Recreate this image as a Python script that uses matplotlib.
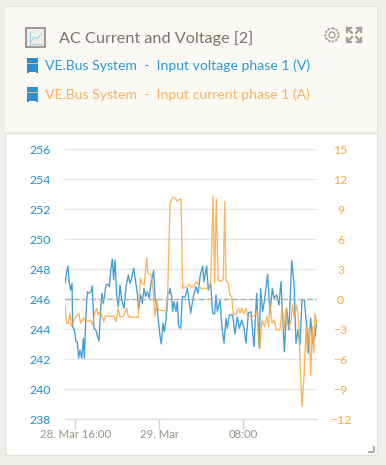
import matplotlib
matplotlib.use("Agg")
import matplotlib.pyplot as plt
from matplotlib.patches import Rectangle, Circle

plt.rcParams['font.family'] = ['Lato', 'DejaVu Sans']

# hours since 28. Mar 16:00
volt_hours = [-0.98,-0.82,-0.70,-0.57,-0.44,-0.31,-0.25,-0.09,0.07,0.19,0.32,0.45,0.61,0.77,0.86,1.02,1.15,1.34,1.50,1.62,
    1.78,1.94,2.13,2.26,2.42,2.54,2.67,2.80,2.92,3.11,3.24,3.40,3.53,3.65,3.78,3.95,4.10,4.26,4.42,4.64,
    4.83,5.05,5.21,5.36,5.56,5.72,5.91,6.03,6.22,6.38,6.54,6.70,6.86,7.05,7.21,7.46,7.62,7.75,7.91,8.07,
    8.19,8.35,8.48,8.64,8.80,8.96,9.02,9.18,9.27,9.40,9.59,9.72,9.84,10.04,10.19,10.45,10.67,10.86,10.99,11.24,
    11.50,11.69,11.88,12.13,12.26,12.51,12.67,12.89,13.08,13.27,13.40,13.53,13.78,13.97,14.16,14.35,14.48,14.67,14.99,15.21,
    15.43,15.62,15.85,16.07,16.26,16.48,16.73,17.02,17.27,17.52,17.65,17.84,18.00,18.32,18.54,18.77,18.92,19.18,19.40,19.59,
    19.91,20.13,20.35,20.61,20.83,21.02,21.21,21.40,21.59,21.81,22.04,22.19,22.42,22.61,22.83,22.99]
volt_values = [247.07,247.84,248.22,247.07,246.62,247.07,244.18,243.96,243.18,243.18,242.07,242.62,242.07,243.4,242.07,245.07,246.51,246.4,246.51,246.89,
    244.07,243.96,243.51,243.22,245.4,246.4,245.73,246.29,246.96,247.02,246.84,248.07,248.67,247.29,248.62,246.18,245.51,246.96,245.96,245.4,
    246.84,247.62,247.07,247.4,248.07,247.29,246.4,245.29,246.29,245.73,246.73,246.18,246.51,246.07,247.07,247.91,245.96,245.62,244.62,243.51,
    243.02,244.4,243.84,244.62,246.4,246.4,246.73,246.18,245.18,245.84,245.18,245.84,244.18,244.07,246.18,246.13,246.73,245.73,245.07,246.18,
    246.84,246.4,247.51,248.22,247.18,248.22,246.62,247.07,245.07,245.02,246.29,245.18,245.96,244.18,243.07,244.73,244.07,244.96,244.96,243.69,
    244.84,244.07,244.62,244.07,243.07,245.07,245.18,242.84,246.4,242.73,246.73,245.18,245.84,247.67,245.07,246.73,246.07,246.29,245.62,247.18,
    242.51,245.4,243.96,248.58,247.07,243.07,243.96,242.96,245.96,245.96,244.18,242.4,244.73,243.07,243.51,244.51]

amp_hours = [-0.98,-0.82,-0.70,-0.50,-0.38,-0.19,0.07,0.32,0.51,0.77,0.96,1.24,1.46,1.65,1.84,2.03,2.16,2.35,2.51,2.73,
    2.86,3.30,3.69,3.88,4.07,4.26,4.57,4.89,5.05,5.53,6.0,6.19,6.38,6.57,6.80,6.92,7.24,7.40,7.59,7.75,
    7.91,8.38,8.76,9.02,9.27,9.53,9.72,9.91,10.07,10.23,10.61,10.86,11.08,11.30,11.50,11.72,11.94,12.51,12.77,12.89,
    12.99,13.12,13.27,13.43,13.59,13.94,14.10,14.23,14.35,14.57,14.73,14.89,15.05,15.27,15.53,15.69,15.85,16.07,16.26,16.42,
    16.80,17.14,17.34,17.46,17.59,17.78,18.04,18.23,18.42,18.54,18.73,18.92,19.18,19.50,19.69,19.88,20.07,20.26,20.51,20.70,
    20.83,21.08,21.27,21.46,21.59,21.78,21.97,22.10,22.29,22.42,22.58,22.70,22.83,22.99]
amp_values = [-0.73,-2.4,-2.4,-1.4,-2.73,-2.23,-1.73,-1.4,-2.4,-1.9,-2.07,-2.23,-2.07,-2.57,-1.4,-0.9,-1.57,-1.23,-1.57,-2.23,
    -1.67,-1.73,-1.67,-2.23,-0.9,-1.73,-1.73,-0.9,-1.73,-1.8,-1.8,2.1,1.6,1.43,4.1,2.6,2.43,0.93,-1.73,-0.07,
    -1.07,-1.13,-1.13,9.6,10.2,10.1,9.83,10.0,10.0,1.1,1.2,1.5,1.2,1.27,1.77,1.43,1.1,1.1,1.1,1.77,
    5.27,10.33,1.6,10.0,1.93,1.77,2.1,9.77,1.93,1.6,0.43,0.27,-1.4,-1.57,-0.9,-1.4,-0.9,-1.4,-0.9,-1.73,
    -1.73,-1.57,-1.23,-3.73,-4.9,-2.07,-2.73,-1.73,-2.73,-0.4,-2.4,-2.07,-3.07,-3.07,-0.73,-3.07,-0.9,-2.73,-2.4,-0.57,
    -1.73,-0.57,-2.07,-7.73,-10.73,-7.73,-2.73,-5.23,-2.73,-7.57,-2.73,-5.4,-1.4,-2.4]

volt_ticks = [238,240,242,244,246,248,250,252,254,256]
amp_ticks = [-12,-9,-6,-3,0,3,6,9,12,15]
time_ticks = [0,8,16]
time_labels = ['28. Mar 16:00','29. Mar','08:00']

W, H = 386, 465
BLUE = '#1f8ecd'
ORANGE = '#fda73f'

fig = plt.figure(figsize=(W/100, H/100), dpi=100, facecolor='#efeee9')

# card and header, drawn in pixel coords
bg = fig.add_axes([0, 0, 1, 1])
bg.set_xlim(0, W)
bg.set_ylim(H, 0)
bg.axis('off')
bg.add_patch(Rectangle((4.5, 6.5), 372.5, 448.5, fc='white', ec='#e3e1d9', lw=1))
bg.add_patch(Rectangle((5, 7), 372, 126, fc='#fbf9f4', ec='none'))
bg.plot([5, 377], [133, 133], color='#e3e1d9', lw=1)

# chart icon
bg.add_patch(Rectangle((25.5, 28.5), 19, 19, fc='#efeee9', ec='#8e877c', lw=1.2))
bg.plot([30, 30, 41], [32, 44, 44], color='#a9cfe6', lw=0.8)
bg.plot([31, 34, 37, 41], [42, 37, 39, 34], color='#a9cfe6', lw=0.8)

bg.text(59, 38.5, 'AC Current and Voltage [2]', fontsize=11.7, color='#7c7368', va='center', ha='left')
bg.text(45, 65.5, 'VE.Bus System  -  Input voltage phase 1 (V)', fontsize=10.1, color='#2a9ad6', va='center', ha='left')
bg.text(45, 94.5, 'VE.Bus System  -  Input current phase 1 (A)', fontsize=10.1, color='#fdb060', va='center', ha='left')

# little device icons next to the series names
for y0 in [58, 87]:
    bg.add_patch(Rectangle((27, y0), 11, 15, fc='#2b8fd0', ec='none'))
    bg.add_patch(Rectangle((27, y0+5), 11, 1.2, fc='#f5b96a', ec='none'))
    bg.add_patch(Rectangle((29, y0+14), 7, 1.2, fc='#fbf9f4', ec='none'))

# gear
bg.add_patch(Circle((332, 35), 6.6, fc='none', ec='#a8a196', lw=1.4, ls=(0, (1.3, 0.6))))
bg.add_patch(Circle((332, 35), 3, fc='none', ec='#a8a196', lw=1))

# expand arrows
for sx, sy in [(-1, -1), (1, -1), (-1, 1), (1, 1)]:
    cx, cy = 354 + sx*7, 35 + sy*7
    bg.plot([cx, cx - sx*5], [cy, cy - sy*5], color='#a8a196', lw=1.6)
    bg.plot([cx - sx*4, cx, cx], [cy, cy, cy - sy*4], color='#a8a196', lw=1.6)

# resize handle
bg.plot([369, 374, 374], [452, 452, 447], color='#b5b1a8', lw=1.5)

# plot area
left, right, top, bottom = 65, 317, 149.3, 419.3
ax = fig.add_axes([left/W, 1-bottom/H, (right-left)/W, (bottom-top)/H])
ax.patch.set_alpha(0)
ax.plot(volt_hours, volt_values, color=BLUE, lw=0.95, alpha=0.85)
ax.set_xlim(-0.98, 23.02)
ax.set_ylim(238, 256)
ax.set_yticks(volt_ticks)
ax.set_xticks(time_ticks)
ax.set_xticklabels(time_labels)
ax.grid(axis='y', color='#e6e6e6', lw=1)
ax.set_axisbelow(True)
for s in ['top', 'left', 'right']:
    ax.spines[s].set_visible(False)
ax.spines['bottom'].set_color('#d8dce6')
ax.tick_params(axis='y', length=0, pad=10.5, labelcolor=BLUE, labelsize=8.8)
ax.tick_params(axis='x', length=7, width=1, color='#d0d4e0', pad=0.3, labelcolor='#9a9388', labelsize=8.2)

ax2 = ax.twinx()
ax2.plot(amp_hours, amp_values, color=ORANGE, lw=0.95, alpha=0.85)
ax2.axhline(0, color='#b0b0b0', lw=1, ls=(0, (4, 2)), zorder=1)
ax2.set_ylim(-12, 15)
ax2.set_yticks(amp_ticks)
for s in ax2.spines.values():
    s.set_visible(False)
ax2.tick_params(axis='y', length=0, pad=17, labelcolor=ORANGE, labelsize=8.8)
for t in ax2.get_yticklabels():
    t.set_ha('center')

fig.savefig('out.png', dpi=100, facecolor=fig.get_facecolor())
